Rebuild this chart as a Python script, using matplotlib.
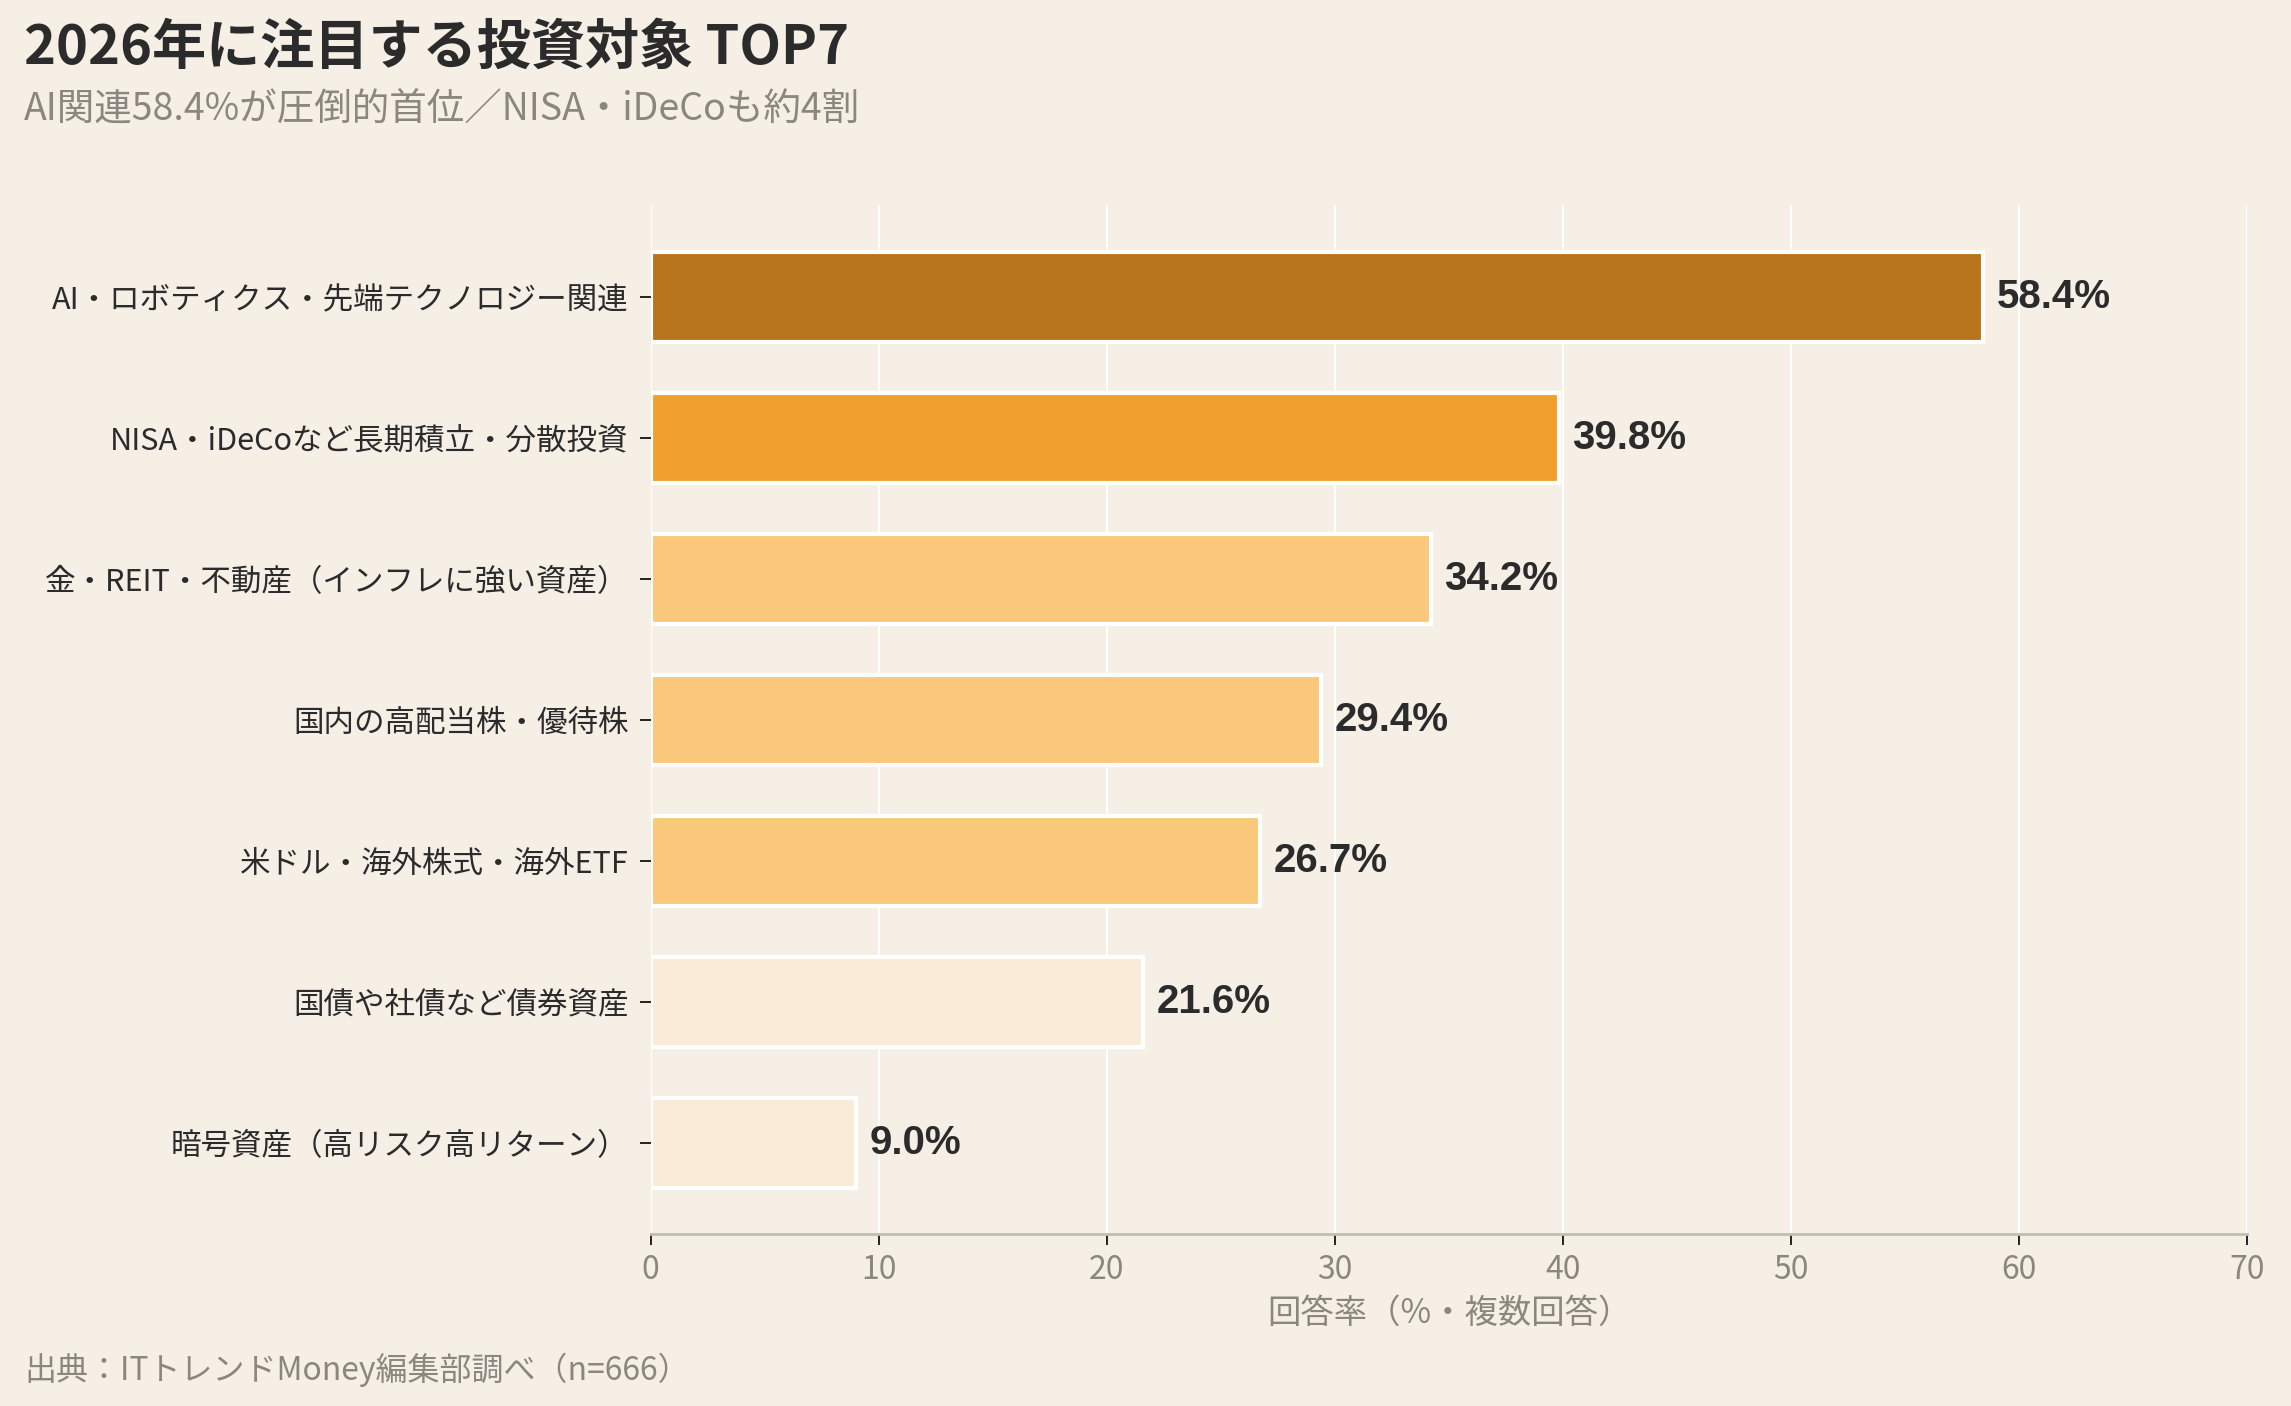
import matplotlib
matplotlib.use("Agg")
import matplotlib.pyplot as plt

plt.rcParams['font.family'] = ['Noto Sans CJK JP', 'DejaVu Sans']

categories = [
    "AI・ロボティクス・先端テクノロジー関連",
    "NISA・iDeCoなど長期積立・分散投資",
    "金・REIT・不動産（インフレに強い資産）",
    "国内の高配当株・優待株",
    "米ドル・海外株式・海外ETF",
    "国債や社債など債券資産",
    "暗号資産（高リスク高リターン）",
]
values = [58.4, 39.8, 34.2, 29.4, 26.7, 21.6, 9.0]
colors = ["#B8741A", "#F0A02C", "#F9C87A", "#F9C87A", "#F9C87A", "#FAEBD8", "#FAEBD8"]
xticks = [0, 10, 20, 30, 40, 50, 60, 70]

bg = "#F5EFE6"
fig = plt.figure(figsize=(22.91, 14.06), dpi=100, facecolor=bg)
ax = fig.add_axes([0.284, 0.122, 0.697, 0.732])
ax.set_facecolor(bg)

y = list(range(len(categories)))
ax.barh(y, values, height=0.64, color=colors, edgecolor="white", linewidth=3, zorder=3)
for yi, v in zip(y, values):
    ax.text(v + 0.6, yi, f"{v:.1f}%", va="center", ha="left", fontsize=29,
            fontweight="bold", color="#2b2b2b",
            family=['Liberation Sans', 'Noto Sans CJK JP'], zorder=4)

ax.set_xlim(0, 70)
ax.set_ylim(6.65, -0.65)
ax.set_xticks(xticks)
ax.set_yticks(y)
ax.set_yticklabels(categories, fontsize=22, color="#2b2b2b")
ax.tick_params(axis="x", labelsize=23, labelcolor="#8a877f", length=8, width=1.2, pad=6)
ax.tick_params(axis="y", length=8, width=1.2, pad=8)
ax.grid(axis="x", color="white", linewidth=1.5, zorder=0)
for s in ["top", "right", "left"]:
    ax.spines[s].set_visible(False)
ax.spines["bottom"].set_color("#c0bdb4")
ax.spines["bottom"].set_linewidth(2)
ax.set_xlabel("回答率（%・複数回答）", fontsize=24, color="#8a877f", labelpad=7)

fig.text(0.0105, 0.966, "2026年に注目する投資対象 TOP7", fontsize=39, fontweight="bold",
         color="#2b2b2b", va="center", ha="left")
fig.text(0.0105, 0.922, "AI関連58.4%が圧倒的首位／NISA・iDeCoも約4割", fontsize=27,
         color="#8a877f", va="center", ha="left")
fig.text(0.0105, 0.026, "出典：ITトレンドMoney編集部調べ（n=666）", fontsize=23,
         color="#8a877f", va="center", ha="left")

fig.savefig("out.png", dpi=100, facecolor=bg)
